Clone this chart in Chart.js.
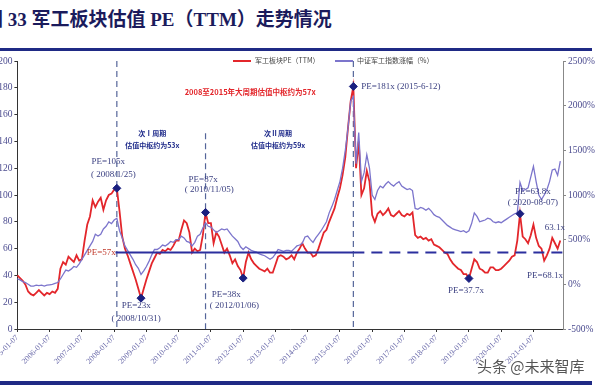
<!DOCTYPE html>
<html>
<head>
<meta charset="utf-8">
<script src="https://cdn.jsdelivr.net/npm/chart.js@4.4.0/dist/chart.umd.min.js"></script>
<style>
  html, body { margin: 0; padding: 0; background: #fff; }
  body { width: 600px; height: 385px; position: relative; overflow: hidden; }
  .title { position: absolute; left: -16px; top: 4px; font: bold 19px "Liberation Serif", "Noto Sans CJK SC", serif; color: #1b1b5c; white-space: nowrap; }
  .rule-top { position: absolute; left: 0; top: 48px; width: 592px; height: 3px; background: #1f2a85; }
  .rule-bottom { position: absolute; left: 0; top: 381px; width: 592px; height: 4px; background: #1f2a85; }
  .chart-box { position: absolute; left: -10px; top: 51px; width: 610px; height: 334px; }
  .legend { position: absolute; top: 55px; font: 7px "Noto Sans CJK SC", sans-serif; color: #444; white-space: nowrap; }
  .legend i { display: inline-block; width: 18px; height: 2px; vertical-align: middle; margin-right: 4px; }
  .watermark { position: absolute; left: 477px; top: 355px; font: 15px "Noto Sans CJK SC", sans-serif; color: #555; text-shadow: 0 0 2px #fff; }
</style>
</head>
<body>
<div class="title">图 33 军工板块估值 PE（TTM）走势情况</div>
<div class="rule-top"></div>
<div class="chart-box"><canvas id="peChart"></canvas></div>
<div class="legend" style="left:233px"><i style="background:#e3262b"></i>军工板块PE（TTM）</div>
<div class="legend" style="left:335px"><i style="background:#7c75cc"></i>中证军工指数涨幅（%）</div>
<div class="watermark">头条 @未来智库</div>
<div class="rule-bottom"></div>

<script>
const years = [2005, 2006, 2007, 2008, 2009, 2010, 2011, 2012, 2013, 2014, 2015, 2016, 2017, 2018, 2019, 2020, 2021];
const monthNums = ['01', '02', '03', '04', '05', '06', '07', '08', '09', '10', '11', '12'];

// 军工板块PE（TTM），每月一个点，2005-01 起
const peValues = [
  40, 38, 36, 33, 28, 26, 25, 27, 29, 27, 25, 27,
  26, 28, 27, 30, 45, 50, 48, 54, 52, 50, 55, 51,
  52, 66, 78, 84, 96, 91, 95, 98, 89, 96, 100, 101,
  104, 105, 88, 69, 60, 55, 49, 43, 37, 30, 23, 30,
  37, 43, 49, 53, 57, 56, 59, 58, 60, 59, 62, 66,
  66, 74, 81, 79, 72, 57, 60, 58, 59, 70, 87, 79,
  79, 64, 72, 69, 63, 57, 60, 55, 49, 52, 47, 44,
  38, 50, 57, 52, 49, 47, 45, 44, 43, 45, 42, 42,
  48, 54, 55, 54, 52, 53, 55, 52, 57, 60, 64, 60,
  57, 57, 54, 55, 60, 66, 72, 74, 80, 85, 90, 98,
  105, 115, 128, 150, 170, 181, 120, 140, 100, 105, 118, 110,
  85, 80, 86, 88, 85, 87, 90, 85, 84, 86, 88, 85,
  84, 86, 85, 87, 70, 68, 69, 67, 68, 66, 67, 63,
  62, 61, 59, 57, 56, 52, 49, 47, 45, 44, 41, 41,
  37.7, 45, 52, 50, 45, 44, 42, 42, 46, 46, 44, 44,
  45, 47, 49, 51, 54, 55, 66, 86, 69, 67, 64, 70,
  78, 68, 62, 60, 51, 55, 60, 68, 64, 60, 66, null
];

// 中证军工指数涨幅（%）
const indexChange = [
  60, 50, 30, 20, 0, -20, -20, -10, -15, -10, -20, -10,
  -5, 0, 10, 20, 60, 110, 160, 150, 170, 200, 190, 230,
  280, 330, 380, 430, 480, 560, 540, 560, 620, 650, 700, 680,
  720, 740, 600, 520, 430, 380, 330, 280, 220, 180, 110, 150,
  200, 260, 330, 390, 390, 410, 440, 430, 450, 480, 470, 500,
  500, 540, 520, 480, 470, 430, 470, 540, 560, 630, 690, 650,
  640, 610, 580, 600, 620, 610, 620, 580, 540, 510, 480, 420,
  390, 420, 400, 380, 370, 360, 340, 330, 320, 300, 280, 300,
  340, 390, 380, 370, 380, 380, 370, 400, 430, 440, 460, 530,
  540, 500, 470, 520, 560, 600, 650, 700, 800, 870, 950, 1050,
  1150, 1300, 1500, 1750, 2050, 2100, 1350, 1700, 1150, 1250, 1450, 1300,
  1000, 950, 1050, 1100, 1080, 1120, 1150, 1120, 1100, 1130, 1150, 1100,
  1080, 1060, 1070, 1050, 850, 840, 860, 850, 830, 850, 820, 780,
  760, 750, 720, 690, 660, 640, 620, 610, 600, 590, 600, 580,
  600, 680, 800, 760, 700, 710, 720, 740, 730, 700, 690, 700,
  690, 710, 730, 750, 770, 790, 800, 1140, 1050, 1060, 1080, 1200,
  1320, 1150, 1000, 950, 1000, 1060, 1150, 1280, 1290, 1220, 1380, null
];

// 标注的高低点（月份序号 / PE）
const keyIdx = [37, 46, 70, 84, 125, 168, 187];
const keyPE = [105, 23, 87, 38, 181, 37.7, 86];

const medianPE = 57;       // 大周期估值中枢
const cycleIdx = [37, 70, 125];
const cycleTop = [200, 146, 200];

const labels = years.flatMap(y => monthNums.map(m => `${y}-${m}-07`));
const keyPoints = labels.map((_, i) => {
  const k = keyIdx.indexOf(i);
  return k >= 0 ? keyPE[k] : null;
});

const notes = [
  { text: '2008至2015年大周期估值中枢约为57x', idx: 86.6, pe: 177, font: 'bold 7.5px "Noto Sans CJK SC"', color: '#e3262b' },
  { text: '次Ⅰ周期', idx: 50.2, pe: 146, font: 'bold 7px "Noto Sans CJK SC"', color: '#1e2a8a' },
  { text: '估值中枢约为53x', idx: 50.2, pe: 137, font: 'bold 7px "Noto Sans CJK SC"', color: '#1e2a8a' },
  { text: '次Ⅱ周期', idx: 97, pe: 146, font: 'bold 7px "Noto Sans CJK SC"', color: '#1e2a8a' },
  { text: '估值中枢约为59x', idx: 97, pe: 137, font: 'bold 7px "Noto Sans CJK SC"', color: '#1e2a8a' },
  { text: 'PE=105x', idx: 33.8, pe: 125 },
  { text: '( 2008/1/25)', idx: 35.7, pe: 115.5 },
  { text: 'PE=87x', idx: 69.1, pe: 111.8 },
  { text: '( 2010/11/05)', idx: 71.4, pe: 104.3 },
  { text: 'PE=23x', idx: 44.2, pe: 17.1 },
  { text: '( 2008/10/31)', idx: 44.2, pe: 7.5 },
  { text: 'PE=38x', idx: 77.7, pe: 26 },
  { text: '( 2012/01/06)', idx: 80.7, pe: 17.1 },
  { text: 'PE=181x (2015-6-12)', idx: 127.9, pe: 181, align: 'left' },
  { text: 'PE=37.7x', idx: 166.9, pe: 28.3 },
  { text: 'PE=63.8x', idx: 191.8, pe: 102.8 },
  { text: '( 2020-08-07)', idx: 191.8, pe: 94.6 },
  { text: '63.1x', idx: 200, pe: 76 },
  { text: 'PE=68.1x', idx: 196.3, pe: 39.5 },
  { text: 'PE=57x', idx: 31.2, pe: 57, color: '#c0392b' }
];

// 周期分界虚线
const cyclePlugin = {
  id: 'cycleLines',
  beforeDatasetsDraw(chart) {
    const { ctx, scales: { x, y } } = chart;
    ctx.save();
    ctx.setLineDash([6, 4]);
    ctx.strokeStyle = '#55659a';
    ctx.lineWidth = 1.2;
    cycleIdx.forEach((idx, i) => {
      const px = x.getPixelForValue(idx);
      ctx.beginPath();
      ctx.moveTo(px, y.getPixelForValue(cycleTop[i]));
      ctx.lineTo(px, y.bottom);
      ctx.stroke();
    });
    ctx.restore();
  }
};

// 估值中枢横线 + 文字标注
const notePlugin = {
  id: 'notes',
  afterDatasetsDraw(chart) {
    const { ctx, scales: { x, y } } = chart;
    ctx.save();
    const py = y.getPixelForValue(medianPE);
    ctx.strokeStyle = '#2b2f9e';
    ctx.lineWidth = 2;
    ctx.beginPath();
    ctx.moveTo(x.getPixelForValue(36.5), py);
    ctx.lineTo(x.getPixelForValue(125), py);
    ctx.stroke();
    ctx.setLineDash([11, 7]);
    ctx.beginPath();
    ctx.moveTo(x.getPixelForValue(125), py);
    ctx.lineTo(x.right, py);
    ctx.stroke();
    ctx.setLineDash([]);

    ctx.textBaseline = 'middle';
    notes.forEach(n => {
      ctx.font = n.font || '9px "Liberation Serif"';
      ctx.fillStyle = n.color || '#3a3f80';
      ctx.textAlign = n.align || 'center';
      ctx.fillText(n.text, x.getPixelForValue(n.idx), y.getPixelForValue(n.pe));
    });
    ctx.restore();
  }
};

new Chart(document.getElementById('peChart'), {
  type: 'line',
  data: {
    labels: labels,
    datasets: [
      {
        label: '标注点',
        data: keyPoints,
        yAxisID: 'y',
        showLine: false,
        pointStyle: 'rectRot',
        pointRadius: 4,
        pointBackgroundColor: '#1a2080',
        pointBorderColor: '#1a2080',
        order: 0
      },
      {
        label: '中证军工指数涨幅（%）',
        data: indexChange,
        yAxisID: 'y1',
        borderColor: '#7c75cc',
        borderWidth: 1.3,
        pointRadius: 0,
        tension: 0,
        order: 1
      },
      {
        label: '军工板块PE（TTM）',
        data: peValues,
        yAxisID: 'y',
        borderColor: '#e3262b',
        borderWidth: 1.8,
        pointRadius: 0,
        tension: 0,
        order: 2
      }
    ]
  },
  options: {
    responsive: true,
    maintainAspectRatio: false,
    animation: false,
    layout: { padding: { top: 10, left: 0, right: 0, bottom: 0 } },
    plugins: {
      legend: { display: false },
      tooltip: { enabled: false }
    },
    scales: {
      x: {
        type: 'category',
        offset: false,
        grid: { drawOnChartArea: false, tickLength: 3, color: '#333' },
        border: { color: '#333' },
        afterFit: s => { s.height = 56; },
        ticks: {
          autoSkip: false,
          maxRotation: 45,
          minRotation: 45,
          padding: 1,
          color: '#6a6aaa',
          font: { family: 'Liberation Serif', size: 8 },
          callback: function (val) {
            const lab = this.getLabelForValue(val);
            return lab.slice(5, 7) === '01' ? lab : null;
          }
        }
      },
      y: {
        position: 'left',
        min: 0,
        max: 200,
        grid: { drawOnChartArea: false, tickLength: 3, color: '#333' },
        border: { color: '#333' },
        afterFit: s => { s.width = 27; },
        ticks: {
          stepSize: 20,
          padding: 2,
          color: '#4b4b8f',
          font: { family: 'Liberation Serif', size: 9.5 }
        }
      },
      y1: {
        position: 'right',
        min: -500,
        max: 2500,
        grid: { drawOnChartArea: false, tickLength: 3, color: '#888' },
        border: { color: '#888' },
        afterFit: s => { s.width = 37; },
        ticks: {
          stepSize: 500,
          padding: 2,
          color: '#4b4b8f',
          font: { family: 'Liberation Serif', size: 9.5 },
          callback: v => v + '%'
        }
      }
    }
  },
  plugins: [cyclePlugin, notePlugin]
});
</script>
</body>
</html>
